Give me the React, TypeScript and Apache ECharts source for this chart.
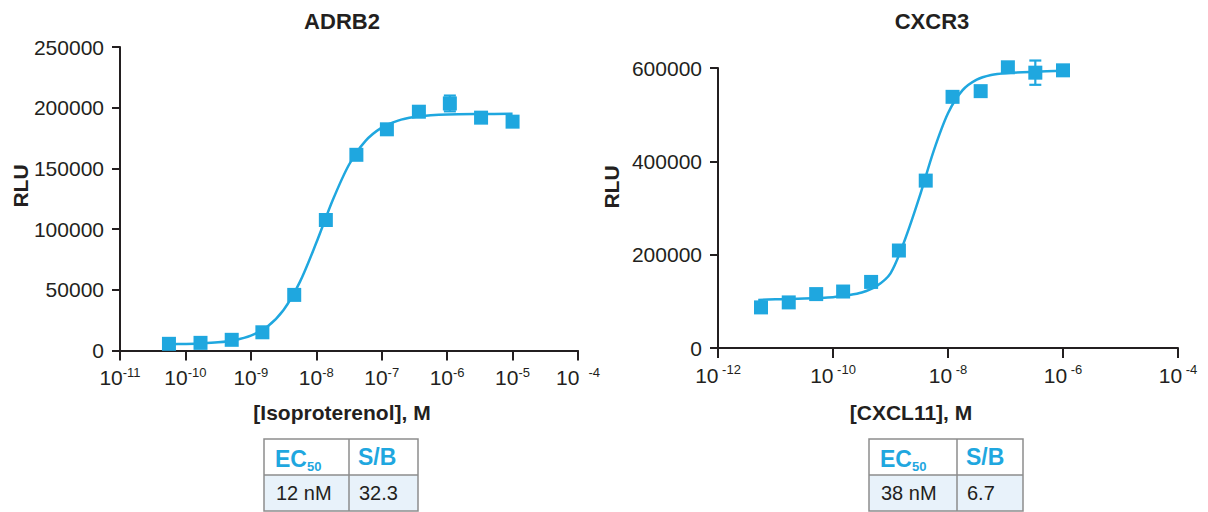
import React, { useEffect, useRef } from "react";
import * as echarts from "echarts";

const BLUE = "#1fa7df";
const INK = "#231f20";
const FONT = "'Liberation Sans', Arial, Helvetica, sans-serif";

// ---- ADRB2 ----
const adrb2Title = "ADRB2";
const adrb2XName = "[Isoproterenol], M";
const adrb2Conc = [5.6e-11, 1.7e-10, 5.1e-10, 1.5e-9, 4.6e-9, 1.4e-8, 4.1e-8, 1.2e-7, 3.7e-7, 1.1e-6, 3.3e-6, 1.0e-5];
const adrb2RLU = [5500, 6300, 8800, 15000, 45800, 107500, 161200, 182200, 196700, 203500, 191800, 188500];
const adrb2Err = [0, 0, 0, 0, 0, 0, 0, 0, 0, 6500, 0, 0];
const adrb2FitConc = [5.62e-11, 1e-10, 1.78e-10, 3.16e-10, 5.62e-10, 1e-9, 1.78e-9, 3.16e-9, 5.62e-9, 1e-8, 1.78e-8, 3.16e-8, 5.62e-8, 1e-7, 1.78e-7, 3.16e-7, 5.62e-7, 1e-6, 3.16e-6, 1e-5];
const adrb2FitRLU = [5200, 5400, 5800, 6700, 8500, 12200, 19600, 33400, 56500, 88700, 123700, 153000, 172500, 183600, 189400, 192300, 193700, 194400, 194800, 195000];
const adrb2YTicks = { min: 0, max: 250000, step: 50000 };
const adrb2XTicks = { min: 1e-11, max: 1e-4, stepDecades: 1 };
const adrb2Table = { ec50: "12 nM", sb: "32.3" };

// ---- CXCR3 ----
const cxcr3Title = "CXCR3";
const cxcr3XName = "[CXCL11], M";
const cxcr3Conc = [5.6e-12, 1.7e-11, 5.1e-11, 1.5e-10, 4.6e-10, 1.4e-9, 4.1e-9, 1.2e-8, 3.7e-8, 1.1e-7, 3.3e-7, 1.0e-6];
const cxcr3RLU = [87000, 97700, 115500, 121000, 141600, 208900, 358700, 538200, 550400, 601500, 590000, 595000];
const cxcr3Err = [0, 0, 0, 0, 0, 0, 0, 0, 0, 0, 26000, 9000];
const cxcr3FitConc = [5.01e-12, 1e-11, 3.16e-11, 1e-10, 1.78e-10, 3.16e-10, 5.62e-10, 1e-9, 1.78e-9, 3.16e-9, 5.62e-9, 1e-8, 1.78e-8, 3.16e-8, 5.62e-8, 1e-7, 3.16e-7, 1e-6];
const cxcr3FitRLU = [103000, 104500, 106000, 109000, 113000, 119000, 132000, 160000, 232000, 322000, 422000, 503000, 552000, 575000, 585000, 589000, 592000, 594000];
const cxcr3YTicks = { min: 0, max: 600000, step: 200000 };
const cxcr3XTicks = { min: 1e-12, max: 1e-4, stepDecades: 2 };
const cxcr3Table = { ec50: "38 nM", sb: "6.7" };

const yLabel = "RLU";

function xAxisCfg(ticks: any, gridIndex: number, lastGap: boolean) {
  return {
    type: "log",
    logBase: 10,
    gridIndex,
    min: ticks.min,
    max: ticks.max,
    interval: ticks.stepDecades,
    axisLine: { show: true, lineStyle: { color: INK, width: 2 } },
    axisTick: { show: true, length: 10, lineStyle: { color: INK, width: 2 } },
    minorTick: { show: false },
    splitLine: { show: false },
    minorSplitLine: { show: false },
    axisLabel: {
      margin: 15,
      color: INK,
      fontFamily: FONT,
      formatter: (v: number) => {
        const e = Math.round(Math.log10(v));
        const isLast = Math.abs(v - ticks.max) / ticks.max < 1e-6;
        if (lastGap) return isLast ? `{a|10}{g|-${-e}}` : `{a|10}{s|-${-e}}`;
        return `{a|10}{s| -${-e}}`;
      },
      rich: {
        a: { fontSize: 21, lineHeight: 24, fontFamily: FONT, color: INK },
        s: { fontSize: 13, lineHeight: 13, verticalAlign: "top", fontFamily: FONT, color: INK },
        g: { fontSize: 13, lineHeight: 13, verticalAlign: "top", fontFamily: FONT, color: INK, padding: [0, 0, 0, 9] },
      },
    },
  };
}

function yAxisCfg(ticks: any, gridIndex: number) {
  return {
    type: "value",
    gridIndex,
    min: ticks.min,
    max: ticks.max,
    interval: ticks.step,
    axisLine: { show: true, lineStyle: { color: INK, width: 2 } },
    axisTick: { show: true, length: 8, lineStyle: { color: INK, width: 2 } },
    splitLine: { show: false },
    axisLabel: { margin: 16, color: INK, fontSize: 21, fontFamily: FONT, formatter: (v: number) => String(v) },
  };
}

function errSeries(conc: number[], vals: number[], errs: number[], idx: number) {
  const data: number[][] = [];
  conc.forEach((c, i) => {
    if (errs[i] > 0) data.push([c, vals[i] - errs[i], vals[i] + errs[i]]);
  });
  return {
    type: "custom",
    xAxisIndex: idx,
    yAxisIndex: idx,
    z: 3,
    clip: false,
    data,
    encode: { x: 0, y: [1, 2] },
    renderItem: (params: any, api: any) => {
      const lo = api.coord([api.value(0), api.value(1)]);
      const hi = api.coord([api.value(0), api.value(2)]);
      const w = 6;
      const st = { stroke: BLUE, lineWidth: 2.2 };
      return {
        type: "group",
        children: [
          { type: "line", shape: { x1: hi[0], y1: hi[1], x2: lo[0], y2: lo[1] }, style: st },
          { type: "line", shape: { x1: hi[0] - w, y1: hi[1], x2: hi[0] + w, y2: hi[1] }, style: st },
          { type: "line", shape: { x1: lo[0] - w, y1: lo[1], x2: lo[0] + w, y2: lo[1] }, style: st },
        ],
      };
    },
  };
}

function pts(xs: number[], ys: number[]) {
  return xs.map((x, i) => [x, ys[i]]);
}

function txt(x: number, y: number, text: string, size: number, weight: string, extra: any = {}) {
  return {
    type: "text",
    x,
    y,
    ...extra,
    style: {
      text,
      fill: INK,
      fontSize: size,
      fontWeight: weight,
      fontFamily: FONT,
      align: "center",
      verticalAlign: "middle",
    },
  };
}

function table(left: number, mid: number, right: number, top: number, rowY: number, bottom: number, vals: any) {
  const border = { stroke: "#8d8d8d", lineWidth: 1.5 };
  return [
    { type: "rect", shape: { x: left, y: rowY, width: right - left, height: bottom - rowY }, style: { fill: "#e8f2fa" } },
    { type: "rect", shape: { x: left, y: top, width: right - left, height: bottom - top }, style: { fill: "none", ...border } },
    { type: "line", shape: { x1: left, y1: rowY, x2: right, y2: rowY }, style: border },
    { type: "line", shape: { x1: mid, y1: top, x2: mid, y2: bottom }, style: border },
    {
      type: "text",
      x: left + 11,
      y: (top + rowY) / 2 + 2,
      style: {
        text: "{a|EC}{b|50}",
        verticalAlign: "middle",
        align: "left",
        rich: {
          a: { fontSize: 23, fontWeight: "bold", fill: BLUE, fontFamily: FONT, lineHeight: 28 },
          b: { fontSize: 13, fontWeight: "bold", fill: BLUE, fontFamily: FONT, lineHeight: 12, verticalAlign: "bottom" },
        },
      },
    },
    {
      type: "text",
      x: mid + 9,
      y: (top + rowY) / 2,
      style: { text: "S/B", fill: BLUE, fontSize: 23, fontWeight: "bold", fontFamily: FONT, align: "left", verticalAlign: "middle" },
    },
    {
      type: "text",
      x: left + 12,
      y: (rowY + bottom) / 2,
      style: { text: vals.ec50, fill: INK, fontSize: 20, fontFamily: FONT, align: "left", verticalAlign: "middle" },
    },
    {
      type: "text",
      x: mid + 10,
      y: (rowY + bottom) / 2,
      style: { text: vals.sb, fill: INK, fontSize: 20, fontFamily: FONT, align: "left", verticalAlign: "middle" },
    },
  ];
}

export default function App() {
  const ref = useRef<HTMLDivElement>(null);
  useEffect(() => {
    document.body.style.margin = "0";
    const chart = echarts.init(ref.current!, null, { renderer: "svg" });
    const option: any = {
      animation: false,
      backgroundColor: "#ffffff",
      grid: [
        { left: 120, top: 47, width: 458, height: 303.5 },
        { left: 718, top: 68, width: 460, height: 280 },
      ],
      xAxis: [xAxisCfg(adrb2XTicks, 0, true), xAxisCfg(cxcr3XTicks, 1, false)],
      yAxis: [yAxisCfg(adrb2YTicks, 0), yAxisCfg(cxcr3YTicks, 1)],
      series: [
        {
          type: "line", xAxisIndex: 0, yAxisIndex: 0, data: pts(adrb2FitConc, adrb2FitRLU),
          showSymbol: false, smooth: 0.3, z: 2, lineStyle: { color: BLUE, width: 2.5 },
        },
        errSeries(adrb2Conc, adrb2RLU, adrb2Err, 0),
        {
          type: "scatter", xAxisIndex: 0, yAxisIndex: 0, data: pts(adrb2Conc, adrb2RLU), clip: false,
          symbol: "rect", symbolSize: 14, z: 4, itemStyle: { color: BLUE, opacity: 1 },
        },
        {
          type: "line", xAxisIndex: 1, yAxisIndex: 1, data: pts(cxcr3FitConc, cxcr3FitRLU),
          showSymbol: false, smooth: 0.3, z: 2, lineStyle: { color: BLUE, width: 2.5 },
        },
        errSeries(cxcr3Conc, cxcr3RLU, cxcr3Err, 1),
        {
          type: "scatter", xAxisIndex: 1, yAxisIndex: 1, data: pts(cxcr3Conc, cxcr3RLU), clip: false,
          symbol: "rect", symbolSize: 14, z: 4, itemStyle: { color: BLUE, opacity: 1 },
        },
      ],
      graphic: [
        txt(342, 21, adrb2Title, 22, "bold"),
        txt(932, 21, cxcr3Title, 22, "bold"),
        txt(20, 186, yLabel, 21, "bold", { rotation: Math.PI / 2 }),
        txt(611, 187, yLabel, 21, "bold", { rotation: Math.PI / 2 }),
        txt(342, 412, adrb2XName, 21, "bold"),
        txt(911, 412, cxcr3XName, 21, "bold"),
        ...table(264, 349, 418, 439, 475, 511, adrb2Table),
        ...table(869, 957, 1023, 439, 475, 511, cxcr3Table),
      ],
    };
    chart.setOption(option);
    return () => chart.dispose();
  }, []);
  return <div ref={ref} style={{ position: "absolute", left: 0, top: 0, width: 1208, height: 512 }} />;
}
